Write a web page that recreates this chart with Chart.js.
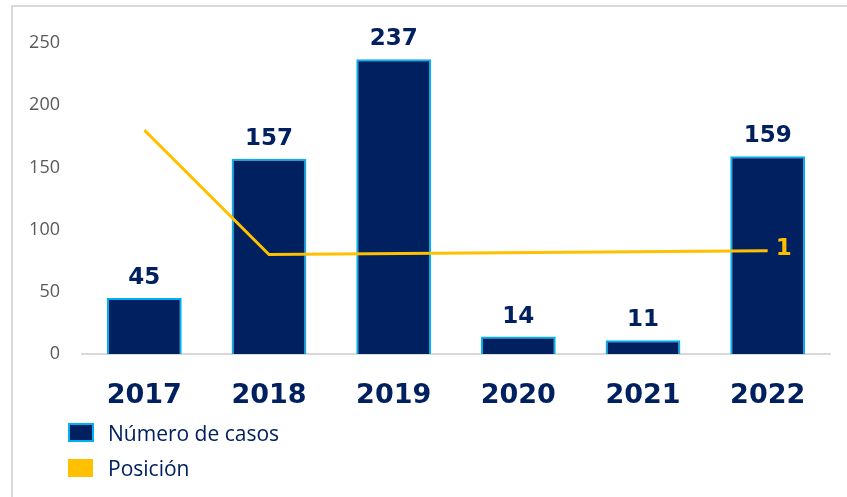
<!DOCTYPE html>
<html>
<head>
<meta charset="utf-8">
<script src="https://cdn.jsdelivr.net/npm/chart.js@4/dist/chart.umd.min.js"></script>
<style>
  html, body { margin: 0; padding: 0; background: #fff; }
  #wrap { position: relative; width: 847px; height: 497px; }
  #frame { position: absolute; left: 11px; top: 5px; right: 0; bottom: 0;
           border-top: 2px solid #d9d9d9; border-left: 2px solid #d9d9d9; }
  #legend { position: absolute; left: 68px; top: 415px; font-family: "Open Sans", sans-serif;
            font-size: 21px; color: #002060; }
  .item { display: flex; align-items: center; height: 35px; }
  .box { width: 22px; height: 15px; margin-right: 14px; }
</style>
</head>
<body>
<div id="wrap">
  <div id="frame"></div>
  <canvas id="chart" width="847" height="497"></canvas>
  <div id="legend"></div>
</div>
<script>
let years = ["2017", "2018", "2019", "2020", "2021", "2022"]
let casos = [45, 157, 237, 14, 11, 159]
// posición plotted on the left scale; only the labelled end point has a value shown
let posicion = [180, 80, null, null, null, 83]
let posicionLabels = ["", "", "", "", "", "1"]

const navy = '#002060'
const gold = '#FFC000'

// value labels over the bars and at the end of the line
const labelsPlugin = {
    id: 'valueLabels',
    afterDatasetsDraw(chart) {
        const ctx = chart.ctx
        ctx.save()
        ctx.font = 'bold 23px "DejaVu Sans"'
        const bars = chart.getDatasetMeta(0).data
        ctx.fillStyle = navy
        ctx.textAlign = 'center'
        ctx.textBaseline = 'alphabetic'
        bars.forEach((b, i) => {
            ctx.fillText(casos[i], b.x, b.y - 14)
        })
        const pts = chart.getDatasetMeta(1).data
        ctx.fillStyle = gold
        ctx.textAlign = 'left'
        ctx.textBaseline = 'middle'
        pts.forEach((p, i) => {
            if (posicionLabels[i] && posicion[i] != null) ctx.fillText(posicionLabels[i], p.x + 8, p.y - 2)
        })
        ctx.restore()
    }
}

const chart = new Chart(document.getElementById('chart'), {
    type: 'bar',
    data: {
        labels: years,
        datasets: [
            {
                label: 'Número de casos',
                data: casos,
                backgroundColor: navy,
                borderColor: '#00B0F0',
                borderWidth: 2,
                barPercentage: 0.6,
                categoryPercentage: 1,
                order: 2
            },
            {
                type: 'line',
                label: 'Posición',
                data: posicion,
                borderColor: gold,
                backgroundColor: gold,
                borderWidth: 3,
                pointRadius: 0,
                spanGaps: true,
                order: 1
            }
        ]
    },
    options: {
        responsive: false,
        animation: false,
        layout: { padding: { left: 0, right: 17, top: 43, bottom: 0 } },
        plugins: {
            legend: { display: false },
            tooltip: { enabled: false }
        },
        scales: {
            x: {
                grid: { display: false, drawTicks: false },
                border: { display: true, color: '#d9d9d9', width: 2 },
                ticks: {
                    color: navy,
                    padding: 26,
                    font: { family: 'DejaVu Sans', size: 27, weight: 'bold' }
                },
                afterFit(scale) { scale.height = 143 }
            },
            y: {
                min: 0,
                max: 250,
                grid: { display: false, drawTicks: false },
                border: { display: false },
                ticks: {
                    stepSize: 50,
                    color: '#595959',
                    padding: 22,
                    font: { family: 'Open Sans', size: 18 }
                },
                afterFit(scale) { scale.width = 82 }
            }
        }
    },
    plugins: [labelsPlugin]
});

// legend as html, one row per dataset
const legend = document.getElementById('legend')
chart.data.datasets.forEach((ds, i) => {
    const row = document.createElement('div')
    row.className = 'item'
    const box = document.createElement('span')
    box.className = 'box'
    box.style.background = i == 0 ? navy : gold
    if (i == 0) box.style.border = '2px solid #00B0F0'
    else { box.style.width = '25px'; box.style.height = '18px'; box.style.marginRight = '15px' }
    row.appendChild(box)
    const txt = document.createElement('span')
    txt.textContent = ds.label
    row.appendChild(txt)
    legend.appendChild(row)
})
</script>
</body>
</html>
